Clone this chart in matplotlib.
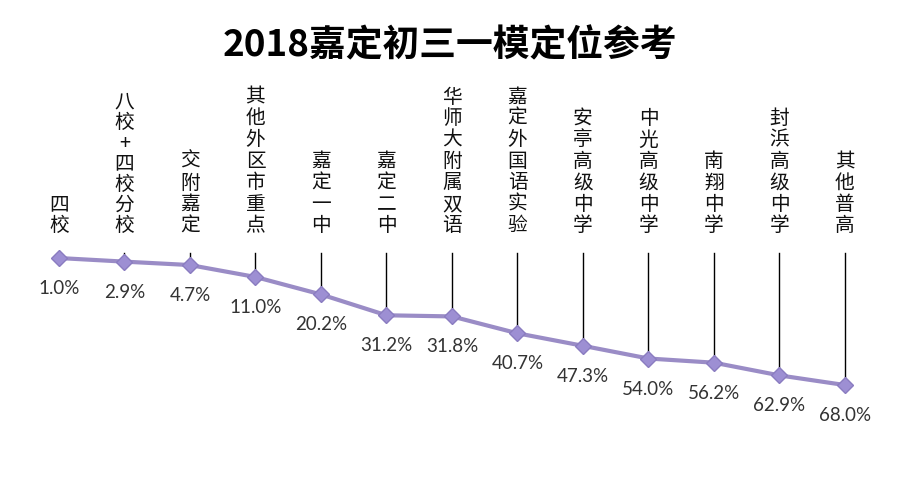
import matplotlib
matplotlib.use("Agg")
import matplotlib.pyplot as plt

plt.rcParams['font.family'] = ['Noto Sans CJK SC', 'DejaVu Sans']

# data
schools = ['四校', '八校+四校分校', '交附嘉定', '其他外区市重点', '嘉定一中', '嘉定二中',
           '华师大附属双语', '嘉定外国语实验', '安亭高级中学', '中光高级中学',
           '南翔中学', '封浜高级中学', '其他普高']
percent = [1.0, 2.9, 4.7, 11.0, 20.2, 31.2, 31.8, 40.7, 47.3, 54.0, 56.2, 62.9, 68.0]
title = '2018嘉定初三一模定位参考'

fig = plt.figure(figsize=(9, 4.99), dpi=100)
ax = fig.add_axes([0, 0, 1, 1])
ax.set_axis_off()

x = list(range(len(schools)))
ax.set_xlim(-0.9008, 12.84)
ax.set_ylim(128.1, -135.1)   # inverted: larger % lower down

# vertical lead lines from label base down to each point
top = -1.7
for xi, v in zip(x, percent):
    ax.plot([xi, xi], [top, v], color='black', lw=1, zorder=1)

ax.plot(x, percent, color='#9a8cc6', lw=3, zorder=2,
        marker='D', markersize=8, markerfacecolor='#9d8fd3',
        markeredgecolor='#8a7cc0')

for xi, v, name in zip(x, percent, schools):
    if '+' in name:
        a, b = name.split('+')
        label = '\n'.join(a) + '\n+\n' + '\n'.join(b)
        ax.text(xi, -10.4, label, ha='center', va='bottom', fontsize=14.2,
                linespacing=0.98, color='#111111')
    else:
        ax.text(xi, -10.4, '\n'.join(name), ha='center', va='bottom', fontsize=14.2,
                linespacing=1.03, color='#111111')
    ax.annotate('%.1f%%' % v, (xi, v), xytext=(0, -22), textcoords='offset points',
                ha='center', va='center', fontsize=13.5, color='#333333',
                family=['Lato', 'DejaVu Sans'])

fig.text(0.5, 0.908, title, ha='center', va='center', fontsize=26.5,
         fontweight='bold', color='black')

fig.savefig('out.png', dpi=100, facecolor='white')
